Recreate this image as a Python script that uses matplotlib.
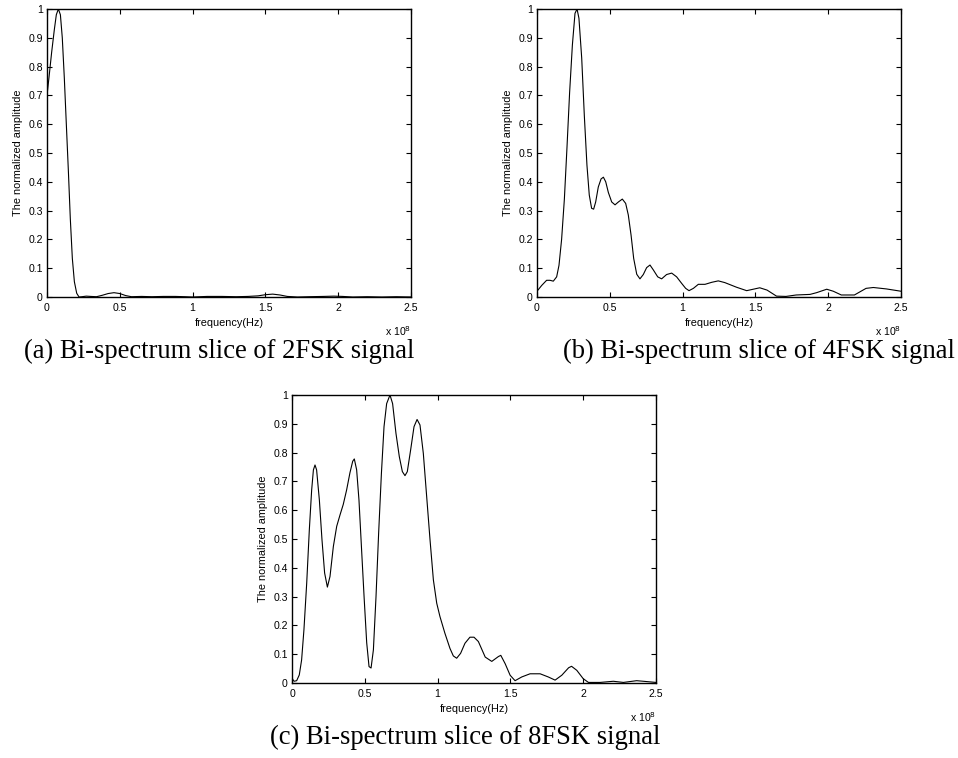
import matplotlib
matplotlib.use("Agg")
import matplotlib.pyplot as plt

# frequency in units of 1e8 Hz, normalized amplitude
freq_2fsk = [0, 0.014, 0.032, 0.05, 0.064, 0.078, 0.092, 0.105, 0.119, 0.133, 0.147, 0.16,
             0.174, 0.188, 0.204, 0.22, 0.24, 0.27, 0.3, 0.34, 0.38, 0.42, 0.46,
             0.5, 0.54, 0.58, 0.65, 0.72, 0.8, 0.88, 0.95, 1.0, 1.1, 1.2, 1.3, 1.38, 1.45,
             1.5, 1.55, 1.6, 1.65, 1.72, 1.8, 1.9, 1.97, 2.03, 2.1, 2.2, 2.3, 2.4, 2.5]
amp_2fsk = [0.70, 0.764, 0.85, 0.927, 0.98, 1.0, 0.98, 0.9, 0.76, 0.597, 0.435, 0.273,
            0.134, 0.053, 0.013, 0.0, 0.001, 0.003, 0.002, 0.001, 0.006, 0.012, 0.015,
            0.012, 0.005, 0.001, 0.002, 0.001, 0.002, 0.002, 0.001, 0.0, 0.002, 0.002, 0.001,
            0.002, 0.004, 0.008, 0.01, 0.007, 0.002, 0.0, 0.001, 0.002, 0.003, 0.002, 0.0,
            0.001, 0.0, 0.001, 0.0]

freq_4fsk = [0, 0.032, 0.066, 0.089, 0.112, 0.135, 0.151, 0.169, 0.188, 0.206, 0.224,
             0.243, 0.261, 0.275, 0.288, 0.307, 0.325, 0.343, 0.359, 0.375, 0.389, 0.403,
             0.421, 0.44, 0.456, 0.472, 0.49, 0.513, 0.536, 0.559, 0.586, 0.609, 0.627,
             0.646, 0.664, 0.685, 0.707, 0.73, 0.753, 0.776, 0.799, 0.829, 0.856, 0.89,
             0.925, 0.959, 0.994, 1.021, 1.044, 1.074, 1.108, 1.154, 1.2, 1.245, 1.29,
             1.37, 1.44, 1.485, 1.53, 1.58, 1.645, 1.71, 1.78, 1.875, 1.92, 1.99, 2.035,
             2.09, 2.18, 2.26, 2.31, 2.40, 2.5]
amp_4fsk = [0.02, 0.04, 0.058, 0.058, 0.055, 0.07, 0.11, 0.20, 0.34, 0.52, 0.71,
            0.875, 0.985, 1.0, 0.968, 0.83, 0.63, 0.458, 0.354, 0.308, 0.305, 0.33,
            0.382, 0.41, 0.416, 0.40, 0.363, 0.33, 0.32, 0.33, 0.34, 0.325, 0.285,
            0.215, 0.134, 0.079, 0.063, 0.078, 0.102, 0.111, 0.094, 0.07, 0.063, 0.078,
            0.083, 0.07, 0.047, 0.03, 0.022, 0.03, 0.044, 0.044, 0.051, 0.056, 0.05,
            0.034, 0.022, 0.027, 0.032, 0.024, 0.003, 0.002, 0.007, 0.009, 0.015, 0.027,
            0.02, 0.007, 0.007, 0.03, 0.033, 0.028, 0.02]

freq_8fsk = [0, 0.014, 0.032, 0.05, 0.066, 0.082, 0.101, 0.119, 0.135, 0.147, 0.158, 0.169,
             0.188, 0.206, 0.224, 0.243, 0.261, 0.284, 0.307, 0.33, 0.352, 0.375, 0.398,
             0.417, 0.428, 0.444, 0.46, 0.478, 0.495, 0.513, 0.529, 0.543, 0.559, 0.577,
             0.595, 0.614, 0.632, 0.65, 0.673, 0.691, 0.714, 0.737, 0.758, 0.776, 0.792,
             0.815, 0.838, 0.859, 0.879, 0.902, 0.925, 0.948, 0.971, 0.994, 1.016, 1.05,
             1.085, 1.108, 1.131, 1.158, 1.188, 1.222, 1.25, 1.28, 1.327, 1.372, 1.418,
             1.434, 1.464, 1.498, 1.532, 1.578, 1.635, 1.704, 1.76, 1.807, 1.853, 1.90,
             1.92, 1.956, 2.0, 2.036, 2.116, 2.207, 2.276, 2.367, 2.413, 2.5]
amp_8fsk = [0.016, 0.006, 0.008, 0.028, 0.08, 0.185, 0.347, 0.532, 0.67, 0.74, 0.757, 0.74,
            0.635, 0.497, 0.382, 0.333, 0.37, 0.474, 0.544, 0.584, 0.62, 0.67, 0.73,
            0.77, 0.778, 0.74, 0.635, 0.462, 0.30, 0.14, 0.057, 0.052, 0.115, 0.30,
            0.52, 0.727, 0.89, 0.97, 1.0, 0.97, 0.867, 0.786, 0.734, 0.72, 0.734,
            0.81, 0.89, 0.915, 0.896, 0.797, 0.647, 0.497, 0.358, 0.277, 0.231, 0.173,
            0.12, 0.094, 0.086, 0.103, 0.138, 0.159, 0.159, 0.144, 0.09, 0.075, 0.092,
            0.096, 0.067, 0.027, 0.008, 0.021, 0.032, 0.032, 0.021, 0.01, 0.027, 0.053,
            0.058, 0.044, 0.015, 0.002, 0.002, 0.006, 0.002, 0.008, 0.006, 0.002]

xticks = [0, 0.5, 1, 1.5, 2, 2.5]
xticklabels = ["0", "0.5", "1", "1.5", "2", "2.5"]
yticks = [0, 0.1, 0.2, 0.3, 0.4, 0.5, 0.6, 0.7, 0.8, 0.9, 1]
yticklabels = ["0", "0.1", "0.2", "0.3", "0.4", "0.5", "0.6", "0.7", "0.8", "0.9", "1"]

captions = ["(a) Bi-spectrum slice of 2FSK signal",
            "(b) Bi-spectrum slice of 4FSK signal",
            "(c) Bi-spectrum slice of 8FSK signal"]

plt.rcParams["font.family"] = "Liberation Sans"

fig = plt.figure(figsize=(9.58, 7.58), dpi=100)
W, H = 958, 758


def make_axes(left, top, right, bottom):
    ax = fig.add_axes([left / W, 1 - bottom / H, (right - left) / W, (bottom - top) / H])
    ax.set_xlim(0, 2.5)
    ax.set_ylim(0, 1)
    ax.set_xticks(xticks)
    ax.set_xticklabels(xticklabels)
    ax.set_yticks(yticks)
    ax.set_yticklabels(yticklabels)
    ax.tick_params(direction="in", length=3.5, width=0.8, top=True, right=True,
                   labelsize=7.6, colors="black")
    ax.tick_params(axis="x", pad=4)
    ax.tick_params(axis="y", pad=3)
    for s in ax.spines.values():
        s.set_linewidth(1.0)
    ax.set_xlabel("frequency(Hz)", fontsize=7.8, labelpad=4)
    ax.set_ylabel("The normalized amplitude", fontsize=7.8, labelpad=4)
    ax.text(1.0, -0.095, r"x 10$^8$", transform=ax.transAxes, fontsize=7.6,
            ha="right", va="top")
    return ax


ax_a = make_axes(47, 9, 411, 297)
ax_a.plot(freq_2fsk, amp_2fsk, color="black", linewidth=0.8)

ax_b = make_axes(537, 9, 901, 297)
ax_b.plot(freq_4fsk, amp_4fsk, color="black", linewidth=0.8)

ax_c = make_axes(292, 395, 656, 683)
ax_c.plot(freq_8fsk, amp_8fsk, color="black", linewidth=0.8)

fig.text(219 / W, 1 - 351 / H, captions[0], family="Liberation Serif", fontsize=19.2,
         ha="center", va="center")
fig.text(759 / W, 1 - 351 / H, captions[1], family="Liberation Serif", fontsize=19.2,
         ha="center", va="center")
fig.text(465 / W, 1 - 737 / H, captions[2], family="Liberation Serif", fontsize=19.2,
         ha="center", va="center")

fig.savefig("out.png", dpi=100)
